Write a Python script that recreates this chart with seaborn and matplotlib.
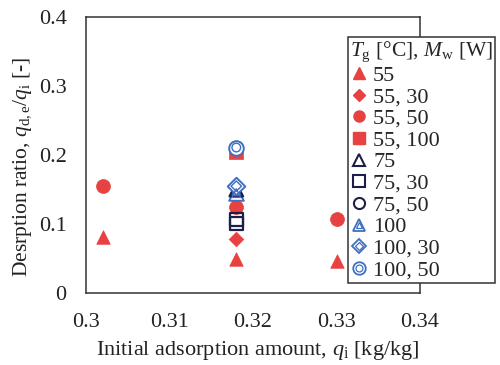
import matplotlib
matplotlib.use("Agg")
import matplotlib.pyplot as plt
import seaborn as sns
import pandas as pd
from matplotlib.lines import Line2D
from matplotlib.legend_handler import HandlerTuple

# Desorption ratio vs. initial adsorption amount for each T_g / M_w condition
labels = ["55", "55, 30", "55, 50", "55, 100", "75", "75, 30", "75, 50",
          "100", "100, 30", "100, 50"]
q_i = {
    "55": [0.302, 0.318, 0.330],
    "55, 30": [0.318],
    "55, 50": [0.302, 0.318, 0.330],
    "55, 100": [0.318],
    "75": [0.318],
    "75, 30": [0.318, 0.318],
    "75, 50": [0.318],
    "100": [0.318],
    "100, 30": [0.318],
    "100, 50": [0.318],
}
ratio = {
    "55": [0.082, 0.050, 0.047],
    "55, 30": [0.078],
    "55, 50": [0.155, 0.125, 0.107],
    "55, 100": [0.205],
    "75": [0.150],
    "75, 30": [0.101, 0.107],
    "75, 50": [0.210],
    "100": [0.145],
    "100, 30": [0.155],
    "100, 50": [0.211],
}
x_ticks = [0.30, 0.31, 0.32, 0.33, 0.34]
x_tick_labels = ["0.3", "0.31", "0.32", "0.33", "0.34"]
y_ticks = [0, 0.1, 0.2, 0.3, 0.4]
y_tick_labels = ["0", "0.1", "0.2", "0.3", "0.4"]

RED = "#e84142"
NAVY = "#1c1f4a"
BLUE = "#3f6fc2"

# marker, kind ("fill", "open", "double"), colour, size (points^2)
styles = {
    "55": ("^", "fill", RED, 95),
    "55, 30": ("D", "fill", RED, 55),
    "55, 50": ("o", "fill", RED, 100),
    "55, 100": ("s", "fill", RED, 90),
    "75": ("^", "open", NAVY, 95),
    "75, 30": ("s", "open", NAVY, 85),
    "75, 50": ("o", "open", NAVY, 85),
    "100": ("^", "double", BLUE, 110),
    "100, 30": ("D", "double", BLUE, 80),
    "100, 50": ("o", "double", BLUE, 110),
}

sns.set_theme(style="white")
plt.rcParams["font.family"] = ["Liberation Serif", "DejaVu Serif"]
plt.rcParams["mathtext.fontset"] = "custom"
plt.rcParams["mathtext.rm"] = "Liberation Serif"
plt.rcParams["mathtext.it"] = "Liberation Serif:italic"

rows = []
for lab in labels:
    for xv, yv in zip(q_i[lab], ratio[lab]):
        rows.append({"series": lab, "q_i": xv, "ratio": yv})
df = pd.DataFrame(rows)

fig = plt.figure(figsize=(5.0, 3.65), dpi=100)
ax = fig.add_axes([0.172, 0.197, 0.668, 0.756])

draw_order = ["55", "55, 30", "55, 50", "75, 30", "100", "75", "100, 30",
              "55, 100", "75, 50", "100, 50"]
for lab in draw_order:
    sub = df[df["series"] == lab]
    mk, kind, col, s = styles[lab]
    if kind == "fill":
        sns.scatterplot(data=sub, x="q_i", y="ratio", marker=mk, s=s,
                        color=col, edgecolor=col, linewidth=0.5, ax=ax,
                        zorder=3, legend=False)
    elif kind == "open":
        sns.scatterplot(data=sub, x="q_i", y="ratio", marker=mk, s=s,
                        facecolor="none", edgecolor=col, linewidth=1.6,
                        ax=ax, zorder=4, legend=False)
    else:
        sns.scatterplot(data=sub, x="q_i", y="ratio", marker=mk, s=s,
                        facecolor="white", edgecolor=col, linewidth=1.4,
                        ax=ax, zorder=4, legend=False)
        sns.scatterplot(data=sub, x="q_i", y="ratio", marker=mk, s=s * 0.35,
                        facecolor="none", edgecolor=col, linewidth=1.0,
                        ax=ax, zorder=5, legend=False)

ax.set_xlim(0.30, 0.34)
ax.set_ylim(0, 0.4)
ax.set_xticks(x_ticks)
ax.set_xticklabels(x_tick_labels)
ax.set_yticks(y_ticks)
ax.set_yticklabels(y_tick_labels)
ax.tick_params(direction="in", length=5, width=1, labelsize=16, colors="#222222")
ax.tick_params(axis="x", pad=14)
ax.tick_params(axis="y", pad=14)
for sp in ax.spines.values():
    sp.set_color("#333333")
    sp.set_linewidth(1.1)

ax.set_xlabel(r"Initial adsorption amount, $q_\mathrm{i}$ [kg/kg]", fontsize=16,
              color="#222222")
ax.set_ylabel(r"Desrption ratio, $q_\mathrm{d,e}/q_\mathrm{i}$ [-]", fontsize=15.5,
              color="#222222")
ax.xaxis.set_label_coords(0.515, -0.168)
ax.yaxis.set_label_coords(-0.155, 0.457)

# legend handles
handles = []
for lab in labels:
    mk, kind, col, s = styles[lab]
    ms = 8 if mk != "D" else 6.5
    if kind == "fill":
        handles.append(Line2D([], [], ls="none", marker=mk, markersize=ms,
                              color=col, markeredgecolor=col))
    elif kind == "open":
        handles.append(Line2D([], [], ls="none", marker=mk, markersize=ms,
                              markerfacecolor="none", markeredgecolor=col,
                              markeredgewidth=1.5))
    else:
        outer = Line2D([], [], ls="none", marker=mk, markersize=ms + 1,
                       markerfacecolor="white", markeredgecolor=col,
                       markeredgewidth=1.3)
        inner = Line2D([], [], ls="none", marker=mk, markersize=(ms + 1) * 0.55,
                       markerfacecolor="none", markeredgecolor=col,
                       markeredgewidth=0.9)
        handles.append((outer, inner))

leg = fig.legend(handles, labels, loc="upper left",
                 bbox_to_anchor=(0.695, 0.898), frameon=True, fancybox=False,
                 edgecolor="#333333", fontsize=16, handlelength=0.8,
                 handletextpad=0.25, labelspacing=0.05, borderpad=0.1,
                 borderaxespad=0, title=r"$T_\mathrm{g}$ [°C], $M_\mathrm{w}$ [W]",
                 title_fontsize=15.5,
                 handler_map={tuple: HandlerTuple(ndivide=1, pad=0)})
leg._legend_box.align = "left"
leg.get_frame().set_linewidth(1.1)
leg.get_frame().set_facecolor("white")
leg.get_frame().set_alpha(1)

fig.savefig("out.png", dpi=100)
